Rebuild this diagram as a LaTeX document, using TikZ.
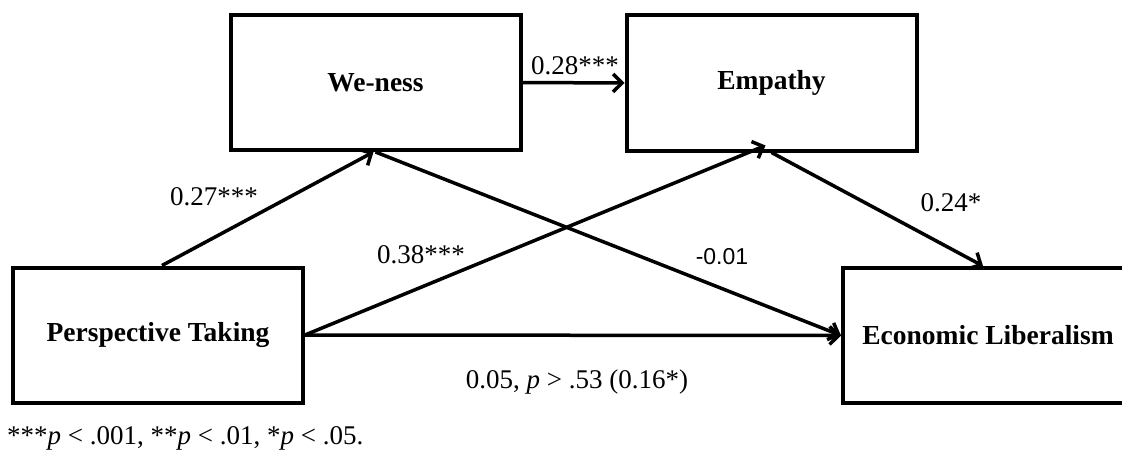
\documentclass[tikz,border=0pt]{standalone}
\usepackage{fontspec}
\setmainfont{Liberation Serif}
\newfontfamily\arialfont{Liberation Sans}
\usetikzlibrary{arrows.meta}
\begin{document}
\begin{tikzpicture}[x=1pt,y=-1pt,
  box/.style={draw, line width=4pt, rectangle, inner sep=0pt,
    minimum width=290pt, minimum height=135pt,
    font=\fontsize{27.5}{31}\selectfont\bfseries},
  conn/.style={line width=3.5pt, -{Straight Barb[length=9pt,width=18pt]}},
  lab/.style={font=\fontsize{27}{31}\selectfont, inner sep=0pt}]
\useasboundingbox (0,0) rectangle (1122,452);
\clip (0,0) rectangle (1122,452);
% boxes
\node[box] (we)  at (375.5,82.5) {We-ness};
\node[box] (emp) at (771.5,83)   {Empathy};
\node[box] (pt)  at (158,335)    {Perspective Taking};
\node[box] (el)  at (988,335.5)  {Economic Liberalism};
% connectors
\draw[conn] ([xshift=4pt]pt.north) -- ([xshift=-2pt]we.south);
\draw[conn] (we.east) -- (emp.west);
\draw[conn] (we.south) -- (el.west);
\draw[conn] (pt.east) -- ([xshift=-6pt,yshift=7pt]emp.south);
\draw[conn] (emp.south) -- ([xshift=142pt]el.north west);
\draw[conn] (pt.east) -- (el.west);
% labels
\node[lab] (l1) at (214,197) {0.27***};
\node[lab] (l2) at (575,66)  {0.28***};
\node[lab] (l3) at (951,203) {0.24*};
\node[lab] (l4) at (421,255) {0.38***};
\node[lab, font=\arialfont\fontsize{23}{27}\selectfont] (l5) at (722,257) {-0.01};
\node[lab] (l6) at (577,382) {0.05, \textit{p} > .53 (0.16*)};
\node[lab, anchor=west] (fn) at (7,438) {***\textit{p} < .001, **\textit{p} < .01, *\textit{p} < .05.};
\end{tikzpicture}
\end{document}
